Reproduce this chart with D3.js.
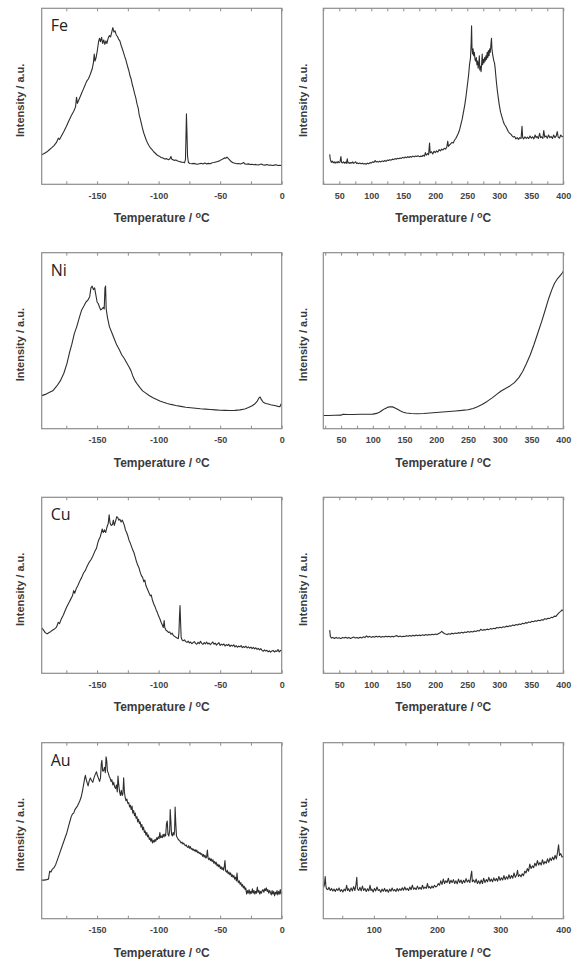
<!DOCTYPE html>
<html>
<head>
<meta charset="utf-8">
<script src="https://cdn.jsdelivr.net/npm/d3@7"></script>
<style>
  html, body { margin: 0; padding: 0; background: #fff; }
  svg { display: block; }
</style>
</head>
<body>
<div id="chart"></div>
<script>
// TPD-style spectra, 4 metals x 2 temperature ranges.
// Intensity values are fractions of the frame height (0 = bottom, 1 = top).

var metals = ['Fe', 'Ni', 'Cu', 'Au'];

var lowTicks  = [-150, -100, -50, 0];
var highTicks = [50, 100, 150, 200, 250, 300, 350, 400];
var auTicks   = [100, 200, 300, 400];

var feLow = [
[-195,0.168],[-193,0.175],[-191,0.183],[-189,0.195],[-187,0.207],[-185,0.22],[-183,0.238],[-181.5,0.262],[-180.5,0.255],[-179,0.275],[-177,0.3],[-175,0.328],[-173,0.36],[-171,0.39],[-169,0.415],[-167.5,0.44],[-166.7,0.495],[-166,0.46],[-164.5,0.485],[-163,0.51],[-161.5,0.535],[-160,0.56],[-158.5,0.585],[-157,0.6],[-155.5,0.625],[-154,0.655],[-153,0.69],[-152.3,0.74],[-151.7,0.7],[-150.8,0.72],[-149.8,0.76],[-148.8,0.81],[-148,0.83],[-147.2,0.81],[-146.3,0.835],[-145.5,0.8],[-144.6,0.82],[-143.7,0.795],[-142.8,0.815],[-142,0.8],[-141,0.83],[-140,0.845],[-139,0.838],[-138,0.868],[-137.2,0.89],[-136.3,0.865],[-135.4,0.872],[-134.5,0.85],[-133.5,0.84],[-132.5,0.825],[-131.5,0.815],[-130.5,0.79],[-129.5,0.77],[-128.5,0.748],[-127.5,0.725],[-126.7,0.71],[-126,0.69],[-125,0.665],[-124,0.64],[-123.2,0.615],[-122.4,0.6],[-121.5,0.57],[-120.5,0.545],[-119.5,0.515],[-118.5,0.49],[-117.5,0.455],[-116.5,0.43],[-115.8,0.395],[-115,0.375],[-114,0.345],[-113,0.315],[-112,0.29],[-111,0.27],[-110,0.25],[-109,0.235],[-108,0.222],[-107,0.21],[-105.5,0.198],[-104,0.185],[-102.5,0.175],[-101,0.165],[-99.5,0.16],[-98,0.152],[-96.5,0.15],[-95,0.144],[-93.5,0.146],[-92,0.14],[-90.8,0.145],[-90,0.158],[-89.2,0.142],[-87.5,0.136],[-86,0.138],[-84.5,0.132],[-83,0.13],[-81.5,0.126],[-80,0.125],[-79,0.122],[-78.2,0.14],[-77.8,0.26],[-77.4,0.4],[-77,0.3],[-76.5,0.16],[-75.8,0.124],[-74.5,0.118],[-73,0.117],[-71.5,0.119],[-70,0.116],[-68.5,0.114],[-67,0.117],[-65.5,0.119],[-64,0.115],[-62.5,0.121],[-61,0.116],[-59.5,0.119],[-58,0.117],[-56.5,0.122],[-55,0.124],[-53.5,0.127],[-52,0.13],[-50.5,0.133],[-49,0.14],[-47.5,0.145],[-46.5,0.15],[-45.5,0.148],[-44.5,0.154],[-43.5,0.147],[-42.5,0.14],[-41.5,0.132],[-40.5,0.127],[-39.5,0.122],[-38,0.12],[-36.5,0.117],[-35,0.118],[-33.5,0.115],[-32,0.119],[-31,0.124],[-30,0.116],[-28.5,0.114],[-27,0.116],[-25.5,0.112],[-24,0.114],[-22.5,0.111],[-21,0.113],[-19.5,0.11],[-18,0.112],[-16.5,0.115],[-15,0.11],[-13.5,0.109],[-12,0.112],[-10.5,0.108],[-9,0.11],[-7.5,0.107],[-6,0.109],[-4.5,0.111],[-3,0.107],[-1.5,0.108],[0,0.106]
];

var feHigh = [
[35,0.17],[36,0.14],[37.5,0.125],[39,0.132],[40.5,0.122],[42,0.128],[43.5,0.12],[45,0.127],[46.5,0.121],[48,0.13],[49.5,0.123],[51,0.126],[52.5,0.158],[53.5,0.125],[55,0.121],[56.5,0.128],[58,0.12],[59.5,0.126],[61,0.119],[62.5,0.145],[63.5,0.12],[65,0.125],[66.5,0.118],[68,0.124],[69.5,0.12],[71,0.127],[72.5,0.119],[74,0.123],[75.5,0.128],[77,0.118],[78.5,0.122],[80,0.117],[82,0.121],[84,0.116],[86,0.12],[88,0.115],[90,0.118],[92,0.114],[94,0.12],[96,0.117],[98,0.123],[100,0.121],[102,0.128],[104,0.124],[106,0.135],[107.5,0.127],[109,0.13],[111,0.126],[113,0.131],[115,0.127],[117,0.133],[119,0.129],[121,0.135],[123,0.13],[125,0.138],[127,0.135],[129,0.14],[131,0.137],[133,0.143],[135,0.14],[137,0.146],[139,0.142],[141,0.148],[143,0.145],[145,0.15],[147,0.147],[149,0.153],[151,0.149],[153,0.155],[155,0.151],[157,0.157],[159,0.152],[161,0.158],[163,0.154],[165,0.16],[167,0.156],[169,0.161],[171,0.158],[173,0.162],[175,0.157],[177,0.16],[179,0.158],[181,0.165],[183,0.16],[184.5,0.18],[186,0.165],[188,0.175],[189.5,0.168],[191,0.235],[192,0.178],[194,0.185],[196,0.172],[198,0.188],[200,0.18],[202,0.19],[204,0.183],[206,0.197],[208,0.19],[210,0.2],[212,0.195],[214,0.205],[216,0.2],[218,0.212],[219.5,0.245],[220.5,0.215],[222,0.222],[224,0.23],[226,0.238],[228,0.235],[230,0.25],[232,0.26],[234,0.275],[236,0.29],[238,0.31],[240,0.34],[242,0.37],[244,0.41],[246,0.45],[248,0.5],[250,0.56],[252,0.62],[253.5,0.68],[255,0.72],[256,0.8],[256.7,0.9],[257.3,0.78],[258.2,0.74],[259,0.77],[260,0.73],[261,0.75],[262,0.71],[263,0.7],[264,0.72],[265,0.68],[266,0.7],[267,0.66],[268,0.69],[268.8,0.73],[269.5,0.65],[270.5,0.67],[271.5,0.64],[272.5,0.69],[273.3,0.74],[274,0.68],[275,0.71],[276,0.69],[277,0.72],[278,0.7],[279,0.73],[280,0.71],[281,0.75],[282,0.72],[283,0.76],[284,0.73],[285,0.77],[286,0.75],[287,0.8],[287.8,0.83],[288.5,0.77],[289.5,0.74],[290.5,0.72],[291.5,0.7],[292.5,0.69],[293.5,0.66],[294.5,0.62],[295.5,0.58],[297,0.53],[298.5,0.49],[300,0.45],[302,0.41],[304,0.385],[306,0.36],[308,0.34],[310,0.33],[312,0.315],[314,0.3],[316,0.29],[318,0.285],[320,0.275],[322,0.268],[324,0.272],[326,0.258],[328,0.265],[330,0.255],[332,0.265],[334,0.26],[335.5,0.33],[336.5,0.265],[338,0.258],[340,0.27],[342,0.26],[344,0.268],[346,0.26],[348,0.275],[350,0.262],[352,0.27],[354,0.258],[356,0.28],[357.5,0.265],[359,0.272],[361,0.26],[363,0.29],[364.5,0.265],[366,0.27],[368,0.26],[369.5,0.305],[371,0.268],[373,0.275],[375,0.262],[377,0.28],[379,0.265],[381,0.272],[383,0.26],[385,0.28],[387,0.265],[389,0.275],[390.5,0.3],[392,0.268],[394,0.262],[396,0.28],[398,0.27],[400,0.272]
];

var niLow = [
[-195,0.188],[-192,0.195],[-189,0.205],[-186,0.215],[-183,0.24],[-180,0.27],[-177,0.315],[-174.5,0.37],[-172.5,0.43],[-170.5,0.48],[-168.5,0.54],[-166.5,0.58],[-164.5,0.63],[-162.5,0.675],[-160.5,0.7],[-159,0.72],[-157.5,0.73],[-156,0.75],[-155,0.8],[-154,0.81],[-153,0.79],[-152,0.8],[-151,0.76],[-150,0.72],[-149,0.71],[-148,0.69],[-147,0.675],[-146,0.68],[-145,0.69],[-144.2,0.68],[-143.6,0.8],[-143.1,0.81],[-142.6,0.68],[-141.5,0.63],[-140,0.58],[-138,0.545],[-136,0.51],[-134,0.475],[-132,0.45],[-130,0.42],[-128,0.4],[-126,0.375],[-124,0.35],[-122.5,0.33],[-121,0.3],[-119,0.27],[-117,0.25],[-115,0.232],[-113,0.215],[-111,0.205],[-108,0.19],[-105,0.177],[-102,0.168],[-99,0.158],[-96,0.15],[-93,0.143],[-90,0.138],[-86,0.132],[-82,0.127],[-78,0.122],[-74,0.119],[-70,0.116],[-66,0.113],[-62,0.111],[-58,0.109],[-54,0.107],[-50,0.105],[-46,0.104],[-42,0.103],[-38,0.104],[-34,0.107],[-30,0.112],[-27,0.12],[-24,0.13],[-22,0.14],[-20,0.155],[-18.5,0.175],[-17.5,0.18],[-16.5,0.165],[-15,0.15],[-13,0.143],[-11,0.14],[-9,0.136],[-7,0.133],[-5,0.13],[-3,0.127],[-1.5,0.125],[-0.5,0.14],[0,0.135]
];

var niHigh = [
[22,0.075],[30,0.075],[40,0.076],[50,0.077],[53,0.082],[60,0.081],[70,0.081],[80,0.082],[90,0.082],[100,0.083],[106,0.087],[111,0.095],[115,0.105],[119,0.114],[123,0.121],[127,0.125],[131,0.124],[135,0.118],[139,0.11],[143,0.102],[148,0.094],[153,0.089],[160,0.086],[170,0.085],[180,0.086],[190,0.089],[200,0.092],[210,0.095],[220,0.098],[230,0.101],[240,0.104],[250,0.108],[258,0.115],[265,0.125],[272,0.138],[280,0.155],[288,0.175],[295,0.195],[302,0.214],[309,0.228],[316,0.243],[323,0.262],[330,0.29],[336,0.325],[342,0.37],[348,0.42],[354,0.48],[360,0.545],[366,0.61],[372,0.68],[377,0.74],[382,0.79],[386,0.825],[390,0.848],[394,0.865],[397,0.878],[400,0.895]
];

var cuLow = [
[-195,0.258],[-193.5,0.245],[-192,0.23],[-190.5,0.224],[-189,0.232],[-187.5,0.238],[-186,0.246],[-184.5,0.252],[-183,0.262],[-181.5,0.29],[-180.5,0.282],[-179,0.31],[-177.5,0.33],[-176,0.355],[-174.5,0.38],[-173,0.4],[-171.5,0.42],[-170,0.44],[-169,0.47],[-168.2,0.455],[-167,0.48],[-165.5,0.5],[-164,0.525],[-162.5,0.545],[-161,0.57],[-159.5,0.585],[-158,0.61],[-156.5,0.63],[-155,0.645],[-153.5,0.665],[-152,0.69],[-150.5,0.71],[-149.5,0.74],[-148.5,0.76],[-147.5,0.775],[-146.5,0.8],[-145.8,0.82],[-145,0.8],[-144,0.815],[-143,0.8],[-142,0.83],[-141,0.85],[-140.2,0.9],[-139.5,0.855],[-138.5,0.84],[-137.5,0.845],[-136.8,0.87],[-136,0.84],[-135,0.865],[-134,0.89],[-133.2,0.885],[-132.4,0.87],[-131.5,0.875],[-130.5,0.86],[-129.5,0.87],[-128.6,0.855],[-127.8,0.84],[-127,0.815],[-126,0.8],[-125,0.78],[-124,0.755],[-123,0.74],[-122,0.72],[-121,0.7],[-120,0.685],[-119,0.66],[-118,0.635],[-117,0.615],[-116,0.6],[-115,0.575],[-114,0.555],[-113,0.545],[-112,0.52],[-111.2,0.53],[-110.4,0.5],[-109.5,0.485],[-108.6,0.47],[-107.7,0.455],[-106.8,0.44],[-106,0.445],[-105,0.415],[-104,0.395],[-103,0.38],[-102,0.36],[-101,0.345],[-100,0.325],[-99,0.31],[-98,0.29],[-97,0.275],[-96.2,0.26],[-95.5,0.3],[-95,0.26],[-94,0.245],[-93,0.24],[-92,0.232],[-91,0.235],[-90,0.222],[-89,0.228],[-88,0.215],[-87,0.21],[-86,0.205],[-85,0.2],[-84,0.197],[-83.5,0.23],[-83,0.33],[-82.6,0.385],[-82.2,0.3],[-81.7,0.205],[-81,0.19],[-80,0.185],[-79,0.19],[-78,0.18],[-77,0.176],[-76,0.183],[-75,0.172],[-74,0.178],[-73,0.168],[-72,0.174],[-71,0.18],[-70,0.17],[-69,0.165],[-68,0.176],[-67,0.168],[-66,0.182],[-65,0.17],[-64,0.164],[-63,0.175],[-62,0.167],[-61,0.178],[-60,0.166],[-59,0.172],[-58,0.163],[-57,0.17],[-56,0.178],[-55,0.165],[-54,0.172],[-53,0.16],[-52,0.168],[-51,0.174],[-50,0.158],[-49,0.166],[-48,0.16],[-47,0.167],[-46,0.155],[-45,0.163],[-44,0.158],[-43,0.165],[-42,0.152],[-41,0.16],[-40,0.154],[-39,0.162],[-38,0.15],[-37,0.157],[-36,0.148],[-35,0.155],[-34,0.15],[-33,0.158],[-32,0.146],[-31,0.152],[-30,0.147],[-29,0.154],[-28,0.144],[-27,0.15],[-26,0.143],[-25,0.149],[-24,0.14],[-23,0.147],[-22,0.139],[-21,0.145],[-20,0.136],[-19,0.142],[-18,0.133],[-17,0.14],[-16,0.13],[-15,0.125],[-14,0.133],[-13,0.126],[-12,0.131],[-11,0.122],[-10,0.128],[-9,0.12],[-8,0.127],[-7,0.13],[-6,0.121],[-5,0.128],[-4,0.124],[-3,0.135],[-2,0.121],[-1,0.13],[0,0.125]
];

var cuHigh = [
[35,0.245],[36,0.21],[37.5,0.2],[40,0.203],[42.5,0.198],[45,0.204],[47.5,0.199],[50,0.202],[52.5,0.197],[55,0.203],[57.5,0.2],[60,0.205],[62.5,0.199],[65,0.204],[67.5,0.198],[70,0.202],[72.5,0.206],[75,0.2],[77.5,0.204],[80,0.199],[82.5,0.205],[85,0.201],[87.5,0.207],[90,0.203],[92.5,0.213],[95,0.205],[97.5,0.21],[100,0.204],[102.5,0.209],[105,0.205],[107.5,0.211],[110,0.206],[112.5,0.21],[115,0.205],[117.5,0.209],[120,0.206],[122.5,0.211],[125,0.207],[127.5,0.21],[130,0.206],[132.5,0.21],[135,0.207],[137.5,0.212],[140,0.214],[142.5,0.208],[145,0.212],[147.5,0.207],[150,0.211],[152.5,0.209],[155,0.214],[157.5,0.21],[160,0.215],[162.5,0.211],[165,0.216],[167.5,0.212],[170,0.218],[172.5,0.213],[175,0.217],[177.5,0.214],[180,0.219],[182.5,0.215],[185,0.22],[187.5,0.216],[190,0.221],[192.5,0.218],[195,0.222],[197.5,0.219],[200,0.223],[202.5,0.22],[205,0.225],[207.5,0.23],[210,0.238],[212,0.232],[214,0.226],[216,0.223],[218.5,0.22],[221,0.225],[223.5,0.222],[226,0.228],[228.5,0.224],[231,0.229],[233.5,0.226],[236,0.231],[238.5,0.228],[241,0.233],[243.5,0.229],[246,0.235],[248.5,0.232],[251,0.237],[253.5,0.233],[256,0.238],[258.5,0.235],[261,0.24],[263.5,0.237],[266,0.243],[268.5,0.24],[271,0.25],[273.5,0.244],[276,0.248],[278.5,0.246],[281,0.251],[283.5,0.248],[286,0.254],[288.5,0.251],[291,0.256],[293.5,0.253],[296,0.26],[298.5,0.257],[301,0.262],[303.5,0.259],[306,0.264],[308.5,0.262],[311,0.268],[313.5,0.265],[316,0.27],[318.5,0.268],[321,0.274],[323.5,0.271],[326,0.277],[328.5,0.274],[331,0.28],[333.5,0.277],[336,0.284],[338.5,0.281],[341,0.288],[343.5,0.285],[346,0.292],[348.5,0.289],[351,0.296],[353.5,0.293],[356,0.298],[358.5,0.296],[361,0.302],[363.5,0.299],[366,0.304],[368.5,0.302],[371,0.31],[373.5,0.307],[376,0.313],[378.5,0.311],[381,0.318],[383.5,0.316],[386,0.325],[388.5,0.323],[391,0.335],[393.5,0.345],[396,0.352],[398,0.36],[400,0.355]
];

var auLow = [
[-195,0.219],[-193,0.219],[-191,0.222],[-189.5,0.225],[-188.5,0.27],[-187.5,0.265],[-186.5,0.28],[-185,0.29],[-183.5,0.31],[-182,0.34],[-180.5,0.37],[-179,0.4],[-177.5,0.43],[-176,0.46],[-174.5,0.49],[-173,0.53],[-172,0.555],[-171,0.58],[-170,0.595],[-169,0.6],[-168,0.62],[-167,0.63],[-166,0.64],[-165,0.655],[-164,0.67],[-163,0.69],[-162,0.72],[-161,0.76],[-160,0.8],[-159.5,0.815],[-158.8,0.79],[-158,0.77],[-157.3,0.755],[-156.5,0.78],[-155.5,0.8],[-154.5,0.785],[-153.5,0.775],[-152.5,0.8],[-151.5,0.82],[-150.5,0.835],[-149.8,0.815],[-149,0.8],[-148,0.78],[-147.2,0.8],[-146.6,0.88],[-146.1,0.9],[-145.5,0.84],[-144.8,0.84],[-144,0.86],[-143.3,0.83],[-142.7,0.92],[-142.2,0.9],[-141.6,0.84],[-141,0.83],[-140.2,0.81],[-139.5,0.8],[-138.7,0.78],[-138,0.79],[-137.2,0.76],[-136.5,0.775],[-135.8,0.75],[-135,0.74],[-134.3,0.76],[-133.6,0.72],[-133,0.81],[-132.4,0.76],[-131.7,0.72],[-131,0.7],[-130.3,0.73],[-129.6,0.7],[-129,0.71],[-128.4,0.8],[-127.8,0.72],[-127.2,0.69],[-126.5,0.67],[-125.8,0.68],[-125,0.655],[-124.3,0.66],[-123.6,0.635],[-123,0.645],[-122.3,0.62],[-121.6,0.64],[-121,0.6],[-120.3,0.615],[-119.6,0.585],[-119,0.6],[-118.3,0.57],[-117.6,0.58],[-117,0.55],[-116.3,0.565],[-115.6,0.54],[-115,0.55],[-114.3,0.52],[-113.6,0.535],[-113,0.505],[-112.3,0.52],[-111.6,0.49],[-111,0.5],[-110.3,0.475],[-109.6,0.49],[-109,0.465],[-108.3,0.475],[-107.6,0.45],[-107,0.46],[-106.3,0.44],[-105.6,0.455],[-105,0.43],[-104.3,0.445],[-103.6,0.435],[-103,0.45],[-102.3,0.44],[-101.6,0.46],[-101,0.45],[-100.3,0.465],[-99.6,0.455],[-99,0.49],[-98.4,0.46],[-97.7,0.47],[-97,0.46],[-96.3,0.48],[-95.6,0.465],[-95,0.48],[-94.3,0.47],[-93.6,0.54],[-93,0.555],[-92.4,0.48],[-91.7,0.47],[-91,0.5],[-90.6,0.62],[-90.1,0.56],[-89.5,0.48],[-88.8,0.47],[-88.2,0.49],[-87.5,0.475],[-87,0.5],[-86.6,0.635],[-86.1,0.55],[-85.5,0.47],[-84.8,0.46],[-84,0.45],[-83.3,0.445],[-82.5,0.44],[-81.8,0.43],[-81,0.435],[-80.3,0.425],[-79.6,0.43],[-79,0.42],[-78.3,0.415],[-77.6,0.42],[-77,0.41],[-76.3,0.405],[-75.6,0.415],[-75,0.4],[-74.3,0.41],[-73.6,0.395],[-73,0.4],[-72.3,0.39],[-71.6,0.395],[-71,0.385],[-70.3,0.392],[-69.6,0.38],[-69,0.39],[-68.3,0.375],[-67.6,0.38],[-67,0.37],[-66.3,0.375],[-65.6,0.365],[-65,0.37],[-64.3,0.355],[-63.6,0.365],[-63,0.35],[-62.3,0.36],[-61.6,0.345],[-61,0.35],[-60.4,0.39],[-59.8,0.345],[-59.2,0.335],[-58.5,0.345],[-57.8,0.33],[-57.2,0.34],[-56.5,0.325],[-55.8,0.335],[-55.2,0.315],[-54.5,0.325],[-53.8,0.31],[-53.2,0.32],[-52.5,0.3],[-51.8,0.31],[-51.2,0.295],[-50.5,0.305],[-49.8,0.285],[-49.2,0.295],[-48.5,0.28],[-47.8,0.29],[-47.2,0.275],[-46.6,0.3],[-46.1,0.33],[-45.5,0.27],[-44.8,0.265],[-44.2,0.275],[-43.5,0.255],[-42.8,0.265],[-42.2,0.25],[-41.5,0.26],[-40.8,0.24],[-40.2,0.25],[-39.5,0.235],[-38.8,0.245],[-38.2,0.225],[-37.5,0.235],[-36.8,0.215],[-36.3,0.26],[-35.8,0.22],[-35.2,0.205],[-34.5,0.215],[-33.8,0.195],[-33.2,0.205],[-32.5,0.185],[-31.8,0.195],[-31.2,0.175],[-30.5,0.185],[-29.8,0.165],[-29.2,0.175],[-28.5,0.14],[-27.8,0.16],[-27.2,0.145],[-26.5,0.165],[-25.8,0.14],[-25.2,0.155],[-24.5,0.145],[-23.8,0.17],[-23.2,0.145],[-22.5,0.16],[-21.8,0.14],[-21.2,0.155],[-20.5,0.145],[-19.8,0.18],[-19.2,0.15],[-18.5,0.16],[-17.8,0.14],[-17.2,0.155],[-16.5,0.145],[-15.8,0.16],[-15.2,0.165],[-14.5,0.15],[-13.8,0.17],[-13.2,0.16],[-12.5,0.175],[-11.8,0.155],[-11.2,0.165],[-10.5,0.145],[-9.8,0.16],[-9.2,0.15],[-8.5,0.135],[-7.8,0.16],[-7.2,0.14],[-6.5,0.155],[-5.8,0.13],[-5.2,0.15],[-4.5,0.14],[-3.8,0.16],[-3.2,0.135],[-2.5,0.155],[-1.8,0.14],[-1.2,0.165],[-0.5,0.14],[0,0.15]
];

var auHigh = [
[20,0.195],[21,0.18],[22,0.2],[23,0.24],[24,0.19],[25,0.17],[27,0.165],[29,0.178],[31,0.16],[33,0.172],[35,0.158],[37,0.168],[39,0.155],[41,0.17],[43,0.16],[45,0.175],[47,0.155],[49,0.165],[51,0.152],[53,0.168],[55,0.158],[57,0.19],[58.5,0.16],[60,0.17],[62,0.155],[64,0.175],[66,0.158],[68,0.182],[70,0.16],[72,0.2],[73,0.235],[74,0.17],[76,0.16],[78,0.178],[80,0.158],[82,0.185],[84,0.16],[86,0.172],[88,0.155],[90,0.17],[92,0.158],[94,0.19],[95.5,0.16],[97,0.168],[99,0.152],[101,0.172],[103,0.158],[105,0.18],[107,0.16],[109,0.165],[111,0.15],[113,0.168],[115,0.156],[117,0.172],[119,0.155],[121,0.165],[123,0.15],[125,0.168],[127,0.156],[129,0.174],[131,0.158],[133,0.166],[135,0.155],[137,0.172],[139,0.158],[141,0.17],[143,0.16],[145,0.176],[147,0.162],[149,0.18],[151,0.163],[153,0.172],[155,0.16],[157,0.18],[159,0.165],[161,0.19],[163,0.167],[165,0.175],[167,0.165],[169,0.185],[171,0.168],[173,0.178],[175,0.167],[177,0.19],[179,0.17],[181,0.18],[183,0.172],[185,0.2],[186.5,0.175],[188,0.182],[190,0.172],[192,0.185],[194,0.175],[196,0.19],[198,0.18],[200,0.185],[202,0.2],[204,0.19],[206,0.215],[208,0.195],[210,0.225],[212,0.2],[214,0.215],[216,0.205],[218,0.23],[220,0.2],[222,0.218],[224,0.205],[226,0.222],[228,0.2],[230,0.215],[232,0.198],[234,0.225],[236,0.205],[238,0.22],[240,0.2],[242,0.218],[244,0.205],[246,0.228],[248,0.208],[250,0.22],[252,0.205],[254,0.25],[255,0.27],[256,0.21],[258,0.22],[260,0.205],[262,0.225],[264,0.2],[266,0.215],[268,0.198],[270,0.22],[272,0.2],[274,0.23],[276,0.205],[278,0.222],[280,0.21],[282,0.235],[284,0.212],[286,0.225],[288,0.21],[290,0.232],[292,0.215],[294,0.228],[296,0.213],[298,0.24],[300,0.218],[302,0.232],[304,0.22],[306,0.245],[308,0.222],[310,0.238],[312,0.225],[314,0.25],[316,0.228],[318,0.245],[320,0.23],[322,0.26],[324,0.235],[326,0.248],[327.5,0.275],[329,0.24],[331,0.25],[333,0.238],[335,0.255],[337,0.245],[339,0.27],[341,0.26],[343,0.285],[345,0.27],[347,0.31],[349,0.285],[351,0.3],[353,0.29],[355,0.315],[357,0.3],[359,0.33],[361,0.305],[363,0.32],[365,0.305],[367,0.335],[369,0.31],[371,0.325],[373,0.315],[375,0.34],[377,0.32],[379,0.345],[381,0.33],[383,0.35],[385,0.335],[387,0.36],[389,0.34],[391,0.38],[392.5,0.42],[394,0.36],[396,0.37],[398,0.35],[400,0.355]
];

(function() {

  var W = 577, H = 959;
  var INK   = '#2e2e2e';
  var FRAME = '#8c8c8c';
  var TEXT  = '#3a3a3a';

  // one entry per panel
  var panels = [
    { row: 0, col: 0, data: feLow,  dom: [-195, 0], ticks: lowTicks,  minor: 25 },
    { row: 0, col: 1, data: feHigh, dom: [25, 400], ticks: highTicks, minor: 25 },
    { row: 1, col: 0, data: niLow,  dom: [-195, 0], ticks: lowTicks,  minor: 25 },
    { row: 1, col: 1, data: niHigh, dom: [22, 400], ticks: highTicks, minor: 25 },
    { row: 2, col: 0, data: cuLow,  dom: [-195, 0], ticks: lowTicks,  minor: 25 },
    { row: 2, col: 1, data: cuHigh, dom: [25, 400], ticks: highTicks, minor: 25 },
    { row: 3, col: 0, data: auLow,  dom: [-195, 0], ticks: lowTicks,  minor: 25 },
    { row: 3, col: 1, data: auHigh, dom: [20, 400], ticks: auTicks,   minor: 50 }
  ];

  var frameLeft = [41.7, 323.3];
  var frameTop  = [8.3, 252.7, 497.3, 742.7];
  var frameW = 240, frameH = 176;

  var svg = d3.select('#chart').append('svg')
    .attr('width', W).attr('height', H)
    .style('background', '#fff');

  function styleTicks(a) {
    a.select('.domain').remove();
    a.selectAll('line').attr('stroke', FRAME).attr('stroke-width', 1);
  }

  panels.forEach(function(p) {
    var x0 = frameLeft[p.col], y0 = frameTop[p.row];

    var x = d3.scaleLinear().domain(p.dom).range([x0, x0 + frameW]);
    var y = d3.scaleLinear().domain([0, 1]).range([y0 + frameH, y0]);

    var g = svg.append('g');

    // minor ticks, inward on top and bottom
    var minorVals = d3.range(Math.ceil(p.dom[0] / p.minor) * p.minor, p.dom[1] + 0.01, p.minor);
    g.append('g')
      .attr('transform', 'translate(0,' + (y0 + frameH) + ')')
      .call(d3.axisBottom(x).tickValues(minorVals).tickSize(-3).tickFormat(''))
      .call(styleTicks);
    g.append('g')
      .attr('transform', 'translate(0,' + y0 + ')')
      .call(d3.axisTop(x).tickValues(minorVals).tickSize(-3).tickFormat(''))
      .call(styleTicks);

    // labelled ticks
    g.append('g')
      .attr('transform', 'translate(0,' + (y0 + frameH) + ')')
      .call(d3.axisBottom(x).tickValues(p.ticks).tickSize(0).tickPadding(8).tickFormat(d3.format('d')))
      .call(function(a) {
        a.select('.domain').remove();
        a.selectAll('text')
          .attr('fill', '#444')
          .attr('font-family', 'Liberation Sans, Arial, sans-serif')
          .attr('font-size', '9px').attr('font-weight', 'bold')
          .text(function(d) { return d < 0 ? '-' + (-d) : d; });
      });

    // trace
    var line = d3.line()
      .x(function(d) { return x(d[0]); })
      .y(function(d) { return y(d[1]); });

    g.append('path').datum(p.data)
      .attr('d', line)
      .attr('fill', 'none')
      .attr('stroke', INK)
      .attr('stroke-width', 1.1)
      .attr('stroke-linejoin', 'round');

    // frame
    g.append('rect')
      .attr('x', x0).attr('y', y0)
      .attr('width', frameW).attr('height', frameH)
      .attr('fill', 'none').attr('stroke', FRAME).attr('stroke-width', 1.2);

    // x title with superscript o
    var tt = g.append('text')
      .attr('x', x0 + frameW / 2).attr('y', y0 + frameH + 38)
      .attr('text-anchor', 'middle')
      .attr('fill', TEXT)
      .attr('font-family', 'Liberation Sans, Arial, sans-serif')
      .attr('font-size', '12px').attr('font-weight', 'bold');
    tt.append('tspan').text('Temperature / ');
    tt.append('tspan').attr('dy', -4).attr('font-size', '9px').text('o');
    tt.append('tspan').attr('dy', 4).text('C');

    // y title
    var yx = p.col === 0 ? 24 : 306.5;
    var yy = y0 + frameH / 2 + 4;
    g.append('text')
      .attr('transform', 'translate(' + yx + ',' + yy + ') rotate(-90)')
      .attr('text-anchor', 'middle')
      .attr('fill', TEXT)
      .attr('font-family', 'Liberation Sans, Arial, sans-serif')
      .attr('font-size', '11px').attr('font-weight', 'bold')
      .text('Intensity / a.u.');

    // metal label
    if (p.col === 0) {
      g.append('text')
        .attr('x', x0 + 9).attr('y', y0 + 23)
        .attr('fill', '#222')
        .attr('font-family', 'Open Sans, Liberation Sans, sans-serif')
        .attr('font-size', '16px')
        .text(metals[p.row]);
    }
  });

})();
</script>
</body>
</html>
